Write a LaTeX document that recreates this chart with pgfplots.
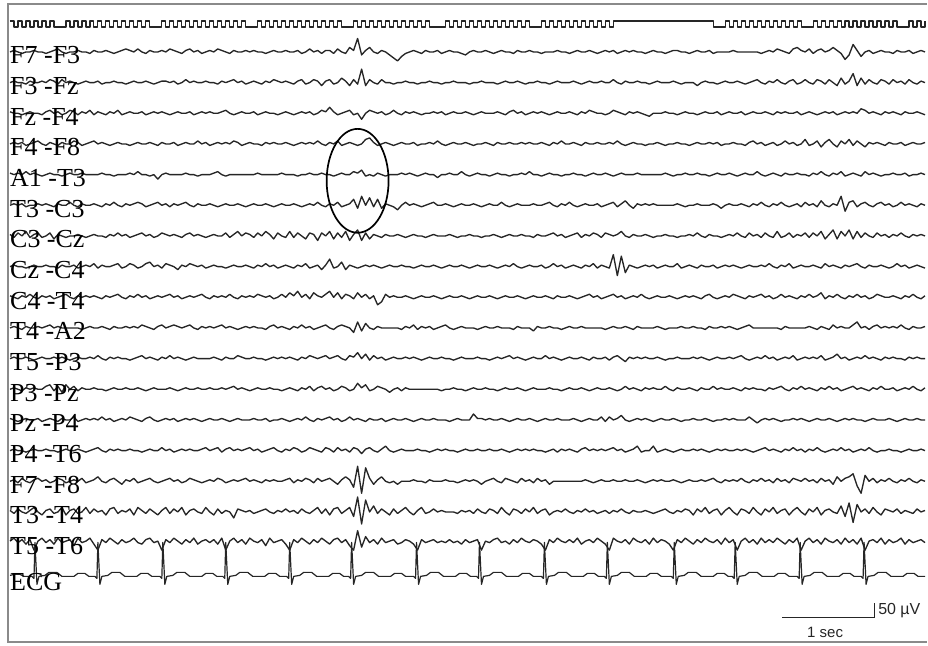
\documentclass[border=0pt]{standalone}
\usepackage{pgfplots}
\pgfplotsset{compat=1.18}
\usepackage{fontspec}
\setmainfont{Liberation Serif}
\newfontfamily\sansf{Liberation Sans}
\definecolor{pen}{HTML}{262626}
\definecolor{framegray}{HTML}{8A8A8A}
\pgfplotsset{
  table/eeg/.style={header=false,row sep=\\,x expr=10+4*\coordindex},
  trace/.style={pen,line width=1.35pt,line join=round,mark=none},
}
\tikzset{lbl/.style={anchor=base west,inner sep=0pt,font=\fontsize{26}{26}\selectfont}}
\begin{document}
\begin{tikzpicture}
\begin{axis}[width=928pt,height=646pt,scale only axis,xmin=0,xmax=928,ymin=0,ymax=646,
  y dir=reverse,hide axis,clip=false]
\path (axis cs:0,0) rectangle (axis cs:928,646);

% photic stimulation marker (1 = high, 0 = low), one sample every 4 px
\addplot[trace,const plot,line width=1.2pt] table[eeg,y expr=27-6*\thisrowno{0}] {
1\\0\\1\\0\\1\\0\\1\\0\\1\\0\\
1\\0\\0\\0\\1\\0\\1\\0\\1\\0\\
1\\0\\1\\0\\1\\0\\1\\0\\1\\0\\
1\\0\\1\\0\\1\\0\\0\\0\\1\\0\\
1\\0\\1\\0\\1\\0\\1\\0\\1\\0\\
1\\0\\1\\0\\1\\0\\1\\0\\1\\0\\
0\\0\\1\\0\\1\\0\\1\\0\\1\\0\\
1\\0\\1\\0\\1\\0\\1\\0\\1\\0\\
1\\0\\1\\0\\0\\0\\1\\0\\1\\0\\
1\\0\\1\\0\\1\\0\\1\\0\\1\\0\\
1\\0\\1\\0\\1\\0\\0\\0\\0\\1\\
0\\1\\0\\1\\0\\1\\0\\1\\0\\1\\
0\\1\\0\\1\\0\\1\\0\\1\\0\\1\\
0\\0\\0\\1\\0\\1\\0\\1\\0\\1\\
0\\1\\0\\1\\0\\1\\0\\1\\0\\1\\
0\\1\\1\\1\\1\\1\\1\\1\\1\\1\\
1\\1\\1\\1\\1\\1\\1\\1\\1\\1\\
1\\1\\1\\1\\1\\1\\0\\0\\0\\1\\
0\\1\\0\\1\\0\\1\\0\\1\\0\\1\\
0\\1\\0\\1\\0\\1\\0\\1\\0\\0\\
0\\1\\0\\1\\0\\1\\0\\1\\0\\1\\
0\\1\\0\\1\\0\\1\\0\\1\\0\\1\\
0\\1\\0\\0\\0\\1\\0\\1\\0\\1\\
};

% EEG channels: deflection in units of 1.5 px, one sample every 4 px
% F7-F3
\addplot[trace] table[eeg,y expr=52-1.5*(\thisrowno{0})] {
0\\1\\0\\-1\\0\\0\\1\\0\\0\\-1\\
0\\1\\2\\0\\-1\\0\\0\\1\\0\\0\\
-1\\1\\0\\0\\1\\0\\-1\\0\\1\\2\\
1\\0\\2\\0\\-1\\1\\0\\0\\1\\0\\
2\\1\\0\\-1\\1\\2\\0\\1\\-1\\0\\
1\\0\\2\\1\\0\\-1\\1\\0\\0\\1\\
0\\1\\0\\0\\-1\\0\\1\\0\\0\\1\\
0\\0\\1\\-1\\0\\2\\0\\1\\-1\\1\\
1\\-1\\2\\0\\-1\\3\\1\\9\\-2\\1\\
3\\0\\-1\\1\\0\\-2\\-4\\-6\\-3\\-1\\
0\\1\\0\\-1\\1\\0\\0\\1\\-1\\0\\
1\\0\\0\\-1\\-2\\0\\1\\0\\0\\1\\
0\\-1\\0\\1\\0\\0\\-1\\1\\0\\0\\
1\\0\\0\\-1\\0\\0\\0\\1\\0\\0\\
-1\\0\\1\\0\\0\\1\\0\\-1\\0\\1\\
0\\1\\-1\\0\\1\\0\\1\\0\\0\\-1\\
0\\1\\0\\0\\-1\\0\\1\\1\\0\\0\\
-1\\0\\1\\0\\0\\1\\-1\\0\\0\\0\\
0\\1\\0\\0\\0\\0\\0\\0\\-1\\0\\
1\\0\\2\\1\\0\\-1\\2\\3\\1\\0\\
2\\-1\\1\\2\\0\\1\\3\\1\\-1\\-5\\
-2\\5\\1\\-3\\0\\1\\-1\\0\\1\\0\\
0\\-1\\1\\0\\0\\1\\-1\\0\\1\\0\\
};

% F3-Fz
\addplot[trace] table[eeg,y expr=82.7-1.5*(\thisrowno{0})] {
0\\1\\0\\0\\-1\\1\\0\\0\\1\\0\\
2\\1\\-1\\2\\0\\1\\0\\-1\\0\\1\\
0\\0\\1\\-1\\0\\0\\1\\0\\0\\-1\\
0\\1\\0\\0\\1\\0\\-1\\0\\1\\1\\
0\\1\\-1\\0\\2\\0\\1\\0\\0\\1\\
0\\0\\-1\\1\\0\\1\\2\\0\\1\\-1\\
0\\1\\0\\-1\\1\\0\\2\\1\\0\\1\\
0\\-1\\1\\2\\-1\\0\\2\\1\\-2\\1\\
2\\-1\\0\\3\\1\\-2\\2\\-1\\9\\-2\\
2\\0\\-1\\2\\0\\0\\-1\\0\\0\\1\\
0\\0\\-1\\0\\0\\1\\0\\0\\-1\\0\\
0\\1\\0\\0\\0\\-1\\0\\0\\1\\0\\
0\\0\\-1\\0\\1\\0\\0\\1\\0\\-1\\
0\\0\\1\\0\\0\\-1\\0\\1\\0\\0\\
0\\1\\0\\-1\\0\\1\\0\\0\\1\\0\\
0\\2\\0\\-1\\1\\0\\0\\1\\0\\0\\
-1\\0\\1\\0\\0\\0\\1\\0\\-1\\0\\
0\\0\\-2\\0\\1\\0\\0\\-1\\0\\1\\
0\\0\\1\\0\\-1\\0\\1\\2\\0\\-1\\
1\\0\\2\\0\\-1\\1\\2\\-1\\0\\2\\
0\\-1\\2\\1\\-1\\2\\0\\-2\\3\\-1\\
1\\6\\-2\\3\\-1\\2\\0\\-1\\2\\1\\
-1\\2\\0\\1\\-1\\2\\0\\-1\\1\\0\\
};

% Fz-F4
\addplot[trace] table[eeg,y expr=113.4-1.5*(\thisrowno{0})] {
1\\0\\0\\-1\\0\\1\\0\\0\\-1\\1\\
2\\0\\1\\-1\\0\\2\\1\\-1\\1\\0\\
2\\-1\\1\\0\\-1\\1\\0\\2\\-1\\0\\
1\\0\\0\\1\\-1\\0\\1\\0\\1\\0\\
-1\\0\\1\\0\\0\\1\\-1\\0\\1\\0\\
1\\0\\0\\1\\2\\0\\-1\\0\\1\\0\\
0\\1\\-1\\0\\1\\0\\0\\-1\\0\\1\\
0\\-1\\0\\1\\0\\1\\-1\\0\\2\\1\\
4\\1\\-1\\0\\1\\2\\-1\\0\\-4\\0\\
2\\1\\0\\1\\-1\\0\\2\\0\\-1\\1\\
0\\1\\0\\-1\\0\\0\\1\\0\\1\\-1\\
0\\1\\0\\0\\1\\0\\-1\\0\\1\\0\\
0\\0\\1\\0\\-1\\1\\2\\0\\1\\-1\\
0\\1\\0\\1\\0\\-1\\0\\1\\0\\0\\
1\\0\\-1\\1\\0\\2\\1\\0\\0\\-1\\
0\\2\\1\\0\\-1\\1\\0\\1\\0\\-1\\
-2\\0\\0\\0\\1\\0\\0\\-1\\0\\1\\
0\\0\\-1\\0\\1\\0\\0\\1\\-1\\0\\
1\\0\\0\\1\\-1\\0\\1\\0\\0\\1\\
0\\-1\\1\\0\\1\\0\\0\\1\\-1\\0\\
1\\0\\-1\\0\\1\\0\\1\\-1\\0\\1\\
0\\1\\0\\3\\2\\0\\1\\0\\-1\\1\\
0\\1\\0\\-1\\1\\0\\0\\1\\0\\-1\\
};

% F4-F8
\addplot[trace] table[eeg,y expr=144.1-1.5*(\thisrowno{0})] {
0\\1\\0\\1\\-1\\0\\1\\2\\0\\-1\\
1\\0\\-1\\1\\0\\0\\2\\1\\-1\\0\\
1\\2\\0\\1\\0\\-1\\0\\1\\0\\0\\
-1\\0\\1\\0\\0\\1\\0\\-1\\1\\0\\
0\\1\\-1\\0\\1\\0\\0\\2\\0\\1\\
-1\\0\\1\\0\\1\\0\\2\\1\\-1\\0\\
1\\0\\0\\-1\\1\\0\\1\\0\\0\\1\\
0\\-1\\0\\1\\0\\1\\0\\2\\0\\-1\\
1\\0\\2\\-1\\0\\1\\0\\-1\\0\\3\\
4\\1\\-1\\0\\1\\0\\-1\\0\\1\\0\\
0\\1\\-1\\0\\0\\1\\0\\2\\0\\-1\\
0\\1\\0\\0\\1\\0\\-1\\0\\0\\1\\
0\\-1\\1\\0\\0\\1\\0\\0\\1\\0\\
1\\0\\0\\1\\0\\-1\\1\\0\\2\\0\\
0\\1\\0\\-1\\1\\0\\0\\1\\0\\0\\
1\\0\\2\\0\\-1\\0\\1\\0\\0\\-1\\
0\\0\\1\\0\\-1\\0\\0\\1\\0\\0\\
-1\\0\\1\\0\\0\\1\\0\\1\\-1\\0\\
0\\1\\0\\0\\-1\\1\\2\\0\\1\\-1\\
0\\1\\-1\\0\\2\\0\\1\\-1\\0\\3\\
-1\\0\\2\\-2\\1\\3\\0\\-2\\2\\0\\
3\\-1\\2\\0\\-2\\1\\0\\1\\0\\-1\\
1\\0\\0\\1\\-1\\0\\1\\0\\0\\1\\
};

% A1-T3
\addplot[trace] table[eeg,y expr=174.8-1.5*(\thisrowno{0})] {
1\\0\\1\\0\\2\\0\\1\\0\\-1\\0\\
1\\0\\0\\-1\\0\\1\\0\\0\\1\\0\\
0\\0\\0\\1\\0\\0\\-1\\0\\0\\0\\
1\\0\\2\\0\\0\\-1\\0\\-3\\0\\1\\
0\\0\\0\\0\\1\\0\\0\\-1\\0\\0\\
0\\1\\2\\0\\-1\\0\\0\\0\\0\\0\\
0\\0\\1\\0\\0\\0\\0\\0\\1\\0\\
0\\0\\-1\\0\\0\\1\\0\\0\\1\\0\\
0\\-1\\0\\1\\0\\0\\2\\1\\3\\-1\\
0\\-1\\1\\0\\-1\\0\\0\\0\\1\\0\\
1\\0\\-1\\0\\1\\0\\0\\-2\\0\\0\\
1\\0\\0\\2\\0\\-1\\0\\1\\0\\0\\
-1\\0\\1\\0\\0\\-1\\0\\0\\1\\0\\
2\\0\\0\\-1\\0\\1\\0\\0\\-1\\0\\
0\\1\\0\\0\\-1\\0\\1\\0\\0\\1\\
0\\-1\\0\\1\\0\\0\\0\\1\\0\\0\\
0\\0\\0\\0\\1\\0\\-1\\0\\0\\1\\
0\\0\\1\\0\\0\\-1\\0\\1\\0\\0\\
1\\0\\-1\\0\\1\\0\\0\\2\\0\\-1\\
0\\1\\0\\-1\\1\\0\\0\\1\\0\\0\\
-1\\1\\0\\2\\0\\-1\\1\\0\\2\\-1\\
0\\1\\0\\-1\\2\\0\\1\\0\\-1\\0\\
0\\1\\0\\0\\1\\-1\\0\\0\\1\\0\\
};

% T3-C3
\addplot[trace] table[eeg,y expr=205.5-1.5*(\thisrowno{0})] {
0\\1\\0\\1\\-1\\0\\0\\1\\0\\1\\
0\\-1\\1\\0\\0\\2\\0\\-1\\1\\0\\
0\\1\\0\\-1\\1\\0\\2\\0\\-1\\1\\
0\\1\\2\\1\\-1\\0\\1\\2\\0\\1\\
-1\\1\\0\\1\\2\\0\\-1\\1\\0\\0\\
1\\0\\-1\\0\\1\\0\\0\\1\\0\\-1\\
0\\1\\0\\0\\1\\0\\-1\\0\\1\\0\\
0\\1\\0\\-1\\0\\1\\0\\2\\0\\-1\\
1\\0\\2\\-1\\0\\1\\4\\-2\\6\\0\\
5\\-1\\4\\-2\\1\\0\\-1\\-3\\0\\2\\
0\\1\\0\\-1\\0\\1\\2\\0\\0\\1\\
0\\-1\\0\\1\\0\\0\\1\\0\\-1\\0\\
1\\0\\0\\2\\0\\-1\\0\\1\\0\\0\\
0\\1\\0\\0\\1\\2\\0\\-1\\1\\0\\
2\\0\\-1\\0\\1\\0\\0\\1\\-1\\0\\
1\\2\\-1\\1\\3\\0\\-2\\1\\0\\1\\
0\\1\\0\\0\\0\\0\\0\\1\\0\\-1\\
0\\0\\1\\0\\0\\0\\1\\0\\-2\\0\\
1\\0\\0\\1\\0\\-1\\1\\0\\2\\0\\
-1\\1\\0\\2\\0\\-1\\0\\1\\-1\\2\\
0\\1\\-1\\3\\0\\-1\\1\\0\\6\\-4\\
2\\3\\-1\\1\\2\\0\\-1\\1\\2\\0\\
1\\-1\\0\\2\\0\\1\\0\\-1\\1\\0\\
};

% C3-Cz
\addplot[trace] table[eeg,y expr=236.2-1.5*(\thisrowno{0})] {
1\\-1\\2\\0\\3\\-1\\1\\2\\-1\\0\\
2\\-2\\1\\0\\-1\\0\\0\\1\\0\\-1\\
0\\1\\0\\0\\-1\\1\\0\\2\\0\\1\\
-1\\0\\1\\2\\0\\1\\-1\\0\\2\\1\\
0\\1\\0\\-1\\1\\2\\0\\1\\0\\-1\\
0\\1\\0\\0\\2\\-1\\1\\3\\0\\2\\
1\\-1\\2\\0\\3\\1\\-2\\2\\0\\-1\\
3\\-1\\2\\0\\-2\\2\\1\\-3\\2\\0\\
3\\-2\\2\\-1\\3\\-3\\1\\4\\-3\\2\\
-2\\1\\0\\-1\\1\\0\\0\\1\\0\\-1\\
0\\1\\0\\0\\-1\\0\\1\\0\\0\\0\\
1\\0\\-1\\0\\0\\1\\0\\0\\-1\\0\\
0\\1\\0\\-1\\0\\1\\0\\0\\1\\0\\
0\\-1\\1\\0\\0\\1\\2\\0\\1\\-1\\
0\\1\\2\\-1\\1\\0\\2\\1\\-1\\2\\
1\\0\\1\\3\\0\\-1\\1\\0\\0\\1\\
0\\-1\\0\\0\\1\\0\\0\\-1\\0\\0\\
1\\0\\2\\0\\-1\\1\\0\\0\\-1\\0\\
1\\0\\2\\0\\-1\\2\\0\\1\\-1\\2\\
0\\-1\\3\\-1\\0\\2\\-1\\1\\0\\2\\
-1\\2\\0\\3\\-2\\1\\4\\-2\\3\\0\\
4\\-2\\3\\-1\\2\\0\\-1\\2\\0\\1\\
-1\\1\\0\\2\\0\\-1\\1\\0\\1\\0\\
};

% Cz-C4
\addplot[trace] table[eeg,y expr=266.9-1.5*(\thisrowno{0})] {
0\\1\\0\\0\\-1\\0\\1\\0\\0\\1\\
0\\0\\-1\\1\\0\\0\\1\\-1\\0\\1\\
0\\2\\-1\\1\\0\\0\\1\\2\\-1\\0\\
2\\1\\-1\\0\\2\\3\\0\\1\\-1\\2\\
1\\0\\-2\\1\\0\\2\\1\\0\\1\\-1\\
0\\1\\0\\0\\-1\\0\\1\\0\\0\\1\\
0\\-1\\1\\0\\2\\0\\1\\-1\\0\\1\\
0\\-1\\1\\0\\2\\-1\\0\\1\\-2\\1\\
5\\-1\\0\\3\\-2\\1\\0\\-1\\0\\1\\
0\\1\\0\\-1\\0\\1\\0\\0\\1\\0\\
0\\-1\\0\\1\\0\\0\\1\\0\\-1\\0\\
1\\0\\0\\1\\0\\-1\\0\\1\\0\\0\\
1\\0\\-1\\0\\1\\0\\2\\0\\-1\\0\\
1\\0\\0\\1\\-1\\0\\2\\0\\1\\-1\\
0\\1\\0\\-1\\1\\0\\2\\-1\\1\\0\\
-1\\8\\-6\\7\\-4\\1\\0\\-1\\0\\1\\
0\\1\\-1\\0\\1\\0\\0\\2\\-1\\0\\
1\\0\\-1\\1\\0\\0\\1\\-1\\0\\1\\
0\\1\\0\\-1\\0\\1\\0\\0\\1\\0\\
2\\0\\-1\\1\\0\\2\\-1\\0\\1\\0\\
0\\1\\0\\-1\\2\\0\\1\\0\\-1\\1\\
0\\1\\2\\0\\-1\\1\\0\\0\\1\\0\\
-1\\0\\2\\0\\1\\-1\\0\\1\\0\\-1\\
};

% C4-T4
\addplot[trace] table[eeg,y expr=297.6-1.5*(\thisrowno{0})] {
1\\0\\-1\\1\\0\\2\\0\\-1\\1\\0\\
1\\-1\\0\\1\\2\\0\\-1\\1\\0\\1\\
0\\1\\0\\-1\\1\\0\\1\\2\\0\\-1\\
1\\0\\2\\0\\1\\-1\\0\\1\\0\\1\\
2\\0\\1\\-1\\0\\1\\0\\1\\2\\0\\
-1\\1\\0\\1\\0\\2\\0\\-1\\1\\0\\
1\\0\\2\\1\\0\\1\\-1\\0\\2\\0\\
3\\1\\4\\0\\2\\-1\\3\\1\\0\\2\\
4\\0\\3\\-1\\2\\1\\-1\\3\\0\\2\\
-1\\1\\-5\\-3\\2\\0\\1\\0\\0\\1\\
0\\-1\\0\\1\\0\\0\\1\\0\\-1\\0\\
1\\0\\0\\1\\0\\-1\\0\\1\\0\\0\\
1\\0\\-1\\0\\1\\0\\0\\1\\0\\-1\\
0\\1\\0\\0\\1\\0\\-1\\1\\0\\0\\
1\\0\\-1\\0\\1\\2\\0\\1\\-1\\0\\
1\\2\\0\\1\\-1\\0\\1\\0\\2\\0\\
-1\\0\\1\\0\\0\\1\\0\\-1\\0\\1\\
0\\1\\0\\-1\\1\\2\\0\\-1\\0\\1\\
0\\2\\1\\0\\-1\\1\\0\\1\\2\\0\\
1\\-1\\0\\2\\0\\1\\0\\-1\\1\\0\\
2\\0\\1\\3\\-1\\1\\0\\2\\0\\-1\\
1\\0\\2\\0\\1\\-1\\0\\2\\1\\0\\
0\\1\\0\\-1\\1\\0\\2\\0\\-1\\1\\
};

% T4-A2
\addplot[trace] table[eeg,y expr=328.3-1.5*(\thisrowno{0})] {
0\\1\\0\\-1\\1\\0\\0\\1\\0\\1\\
2\\0\\1\\0\\0\\0\\0\\0\\-1\\0\\
1\\0\\0\\1\\0\\-1\\1\\0\\0\\1\\
0\\1\\0\\2\\1\\0\\-1\\1\\2\\0\\
1\\2\\1\\0\\1\\2\\0\\-1\\1\\0\\
1\\0\\1\\2\\0\\1\\0\\-1\\0\\1\\
0\\1\\0\\0\\-1\\1\\2\\0\\1\\0\\
-1\\1\\0\\2\\0\\1\\-1\\0\\1\\2\\
0\\-1\\1\\2\\1\\0\\-3\\4\\-2\\3\\
0\\-1\\1\\0\\0\\0\\0\\0\\-1\\1\\
0\\2\\-1\\1\\0\\1\\-1\\0\\1\\2\\
0\\-1\\0\\1\\0\\0\\0\\-1\\0\\1\\
0\\0\\1\\0\\0\\0\\-1\\1\\0\\0\\
0\\-2\\1\\0\\0\\1\\0\\0\\-1\\0\\
1\\0\\0\\1\\0\\0\\0\\0\\0\\-1\\
0\\1\\0\\0\\1\\0\\-1\\1\\0\\0\\
0\\0\\1\\0\\-1\\0\\0\\0\\1\\0\\
0\\1\\0\\0\\-1\\1\\0\\0\\1\\0\\
1\\0\\-1\\0\\1\\2\\0\\0\\0\\0\\
0\\0\\0\\-1\\1\\0\\0\\0\\0\\0\\
1\\0\\-1\\1\\0\\-1\\2\\0\\1\\0\\
0\\2\\4\\0\\1\\-1\\1\\2\\0\\1\\
0\\1\\0\\2\\0\\-1\\1\\0\\0\\1\\
};

% T5-P3
\addplot[trace] table[eeg,y expr=359.0-1.5*(\thisrowno{0})] {
0\\1\\0\\0\\1\\0\\-1\\0\\1\\0\\
0\\1\\0\\1\\0\\-1\\0\\1\\0\\0\\
1\\0\\2\\0\\-1\\1\\0\\1\\0\\0\\
-1\\0\\1\\2\\0\\1\\0\\-1\\1\\0\\
2\\0\\1\\0\\-1\\0\\1\\0\\0\\0\\
0\\1\\0\\-1\\1\\0\\0\\2\\1\\0\\
0\\1\\0\\0\\-1\\0\\1\\0\\1\\0\\
1\\0\\-1\\1\\0\\2\\1\\0\\1\\2\\
0\\1\\2\\0\\-1\\2\\1\\4\\0\\3\\
-1\\2\\0\\1\\-1\\0\\1\\0\\0\\1\\
0\\1\\0\\-1\\0\\1\\0\\0\\1\\0\\
0\\-1\\0\\1\\0\\0\\0\\1\\0\\0\\
-1\\0\\1\\0\\1\\2\\0\\1\\0\\-1\\
0\\1\\0\\0\\2\\0\\1\\0\\-1\\0\\
1\\0\\0\\1\\0\\-1\\1\\0\\0\\1\\
-1\\1\\2\\0\\-2\\1\\0\\1\\0\\1\\
0\\0\\1\\0\\-1\\0\\0\\1\\0\\0\\
0\\1\\0\\1\\0\\-1\\0\\1\\0\\0\\
1\\0\\1\\2\\0\\-1\\0\\1\\0\\2\\
0\\1\\-1\\0\\1\\0\\2\\-1\\0\\1\\
0\\1\\0\\2\\-1\\0\\1\\3\\0\\1\\
-1\\0\\1\\0\\2\\0\\1\\0\\-1\\1\\
0\\1\\0\\0\\-1\\1\\0\\1\\0\\0\\
};

% P3-Pz
\addplot[trace] table[eeg,y expr=389.7-1.5*(\thisrowno{0})] {
0\\1\\0\\-1\\1\\0\\1\\0\\0\\2\\
3\\-1\\2\\-2\\3\\0\\2\\-1\\1\\0\\
0\\1\\0\\0\\-1\\0\\1\\0\\0\\1\\
0\\0\\1\\0\\-1\\0\\1\\0\\0\\0\\
1\\0\\-1\\0\\1\\0\\0\\1\\0\\0\\
1\\0\\0\\1\\0\\1\\2\\0\\1\\0\\
-1\\0\\1\\0\\0\\1\\0\\0\\-1\\0\\
1\\0\\-1\\1\\0\\2\\-1\\1\\2\\0\\
1\\-1\\0\\2\\1\\-1\\0\\4\\1\\3\\
-1\\0\\2\\1\\0\\-2\\0\\1\\-1\\1\\
0\\0\\0\\0\\0\\0\\0\\0\\-1\\0\\
0\\1\\0\\0\\-1\\0\\1\\0\\0\\1\\
0\\0\\-1\\0\\1\\0\\0\\1\\0\\-1\\
0\\1\\0\\0\\0\\1\\0\\0\\-1\\0\\
1\\0\\0\\1\\0\\-1\\0\\1\\0\\0\\
1\\0\\-1\\0\\2\\0\\1\\0\\-1\\1\\
0\\1\\0\\0\\2\\0\\-1\\1\\0\\0\\
1\\0\\-1\\1\\0\\0\\2\\0\\1\\0\\
0\\1\\0\\-1\\1\\0\\1\\0\\0\\-1\\
1\\0\\1\\2\\0\\-1\\1\\0\\2\\0\\
1\\0\\-1\\1\\0\\2\\0\\1\\-1\\0\\
1\\2\\0\\1\\0\\-1\\1\\0\\2\\0\\
0\\1\\-1\\0\\1\\0\\2\\0\\-1\\1\\
};

% Pz-P4
\addplot[trace] table[eeg,y expr=420.4-1.5*(\thisrowno{0})] {
1\\0\\-1\\0\\1\\0\\0\\1\\-1\\0\\
1\\0\\-1\\1\\0\\0\\2\\-1\\0\\1\\
0\\1\\0\\2\\0\\1\\-1\\0\\1\\0\\
2\\1\\0\\-1\\1\\2\\0\\-1\\0\\1\\
0\\1\\-1\\0\\1\\0\\1\\0\\-1\\0\\
1\\0\\0\\1\\0\\-1\\0\\1\\0\\0\\
0\\1\\0\\0\\1\\-1\\0\\0\\1\\0\\
-1\\0\\1\\0\\2\\0\\-1\\1\\0\\1\\
2\\0\\1\\-1\\0\\2\\0\\1\\0\\-1\\
1\\0\\0\\1\\-1\\0\\1\\0\\0\\1\\
0\\-1\\0\\1\\0\\0\\1\\0\\0\\0\\
-1\\0\\1\\0\\0\\0\\4\\1\\1\\0\\
1\\0\\0\\1\\0\\-1\\0\\1\\0\\0\\
1\\0\\-1\\0\\1\\0\\0\\1\\0\\0\\
0\\1\\0\\-1\\0\\1\\0\\0\\2\\-1\\
2\\0\\1\\3\\0\\-1\\0\\1\\0\\1\\
0\\-1\\0\\1\\0\\0\\1\\0\\-1\\0\\
0\\1\\0\\0\\1\\0\\-1\\0\\0\\1\\
0\\1\\0\\0\\0\\2\\0\\-2\\0\\1\\
0\\1\\0\\-1\\0\\0\\1\\0\\1\\0\\
-1\\0\\1\\0\\0\\1\\0\\-1\\0\\1\\
0\\1\\0\\0\\-1\\0\\1\\0\\0\\0\\
1\\0\\-1\\0\\1\\0\\0\\1\\0\\0\\
};

% P4-T6
\addplot[trace] table[eeg,y expr=451.1-1.5*(\thisrowno{0})] {
0\\1\\0\\0\\-1\\0\\1\\0\\0\\1\\
0\\0\\-1\\0\\1\\0\\0\\1\\0\\-1\\
0\\1\\2\\0\\-1\\1\\0\\1\\0\\0\\
1\\0\\0\\-1\\0\\1\\0\\0\\2\\0\\
1\\-1\\0\\1\\0\\1\\0\\0\\1\\2\\
0\\1\\2\\-1\\1\\2\\0\\1\\0\\1\\
2\\0\\1\\-1\\0\\1\\2\\0\\-1\\1\\
0\\2\\1\\-1\\0\\2\\1\\0\\-1\\2\\
1\\-1\\2\\0\\1\\-1\\2\\1\\-2\\1\\
2\\0\\-1\\1\\3\\0\\-1\\0\\1\\0\\
0\\0\\1\\0\\0\\-1\\0\\1\\0\\1\\
0\\0\\-1\\0\\1\\0\\0\\1\\0\\0\\
1\\0\\0\\1\\0\\-1\\0\\1\\0\\1\\
0\\1\\0\\0\\-1\\0\\1\\-1\\1\\0\\
1\\0\\-1\\1\\2\\0\\1\\0\\1\\0\\
1\\2\\0\\1\\-1\\0\\1\\3\\-1\\0\\
0\\3\\-1\\0\\1\\0\\-1\\0\\1\\0\\
0\\1\\0\\1\\0\\-1\\0\\1\\0\\1\\
0\\0\\1\\0\\1\\0\\-1\\0\\1\\2\\
0\\1\\0\\-1\\1\\0\\2\\0\\1\\-1\\
1\\0\\2\\0\\-1\\0\\1\\0\\2\\0\\
1\\-1\\0\\1\\0\\2\\0\\-1\\0\\0\\
1\\0\\0\\-1\\0\\1\\0\\0\\1\\0\\
};

% F7-F8
\addplot[trace] table[eeg,y expr=481.8-1.5*(\thisrowno{0})] {
0\\1\\-1\\2\\0\\-1\\1\\2\\0\\1\\
-1\\0\\2\\1\\-1\\0\\1\\0\\2\\-1\\
0\\1\\3\\0\\-1\\1\\2\\0\\-2\\1\\
0\\2\\-1\\0\\1\\2\\0\\-1\\0\\1\\
2\\0\\1\\-1\\0\\2\\1\\0\\-1\\0\\
1\\0\\2\\1\\-1\\0\\1\\0\\1\\2\\
0\\1\\0\\-1\\1\\0\\1\\0\\0\\1\\
2\\-1\\1\\0\\2\\1\\-1\\2\\0\\1\\
2\\0\\-2\\1\\3\\1\\-4\\10\\-8\\9\\
2\\-2\\1\\3\\0\\-1\\0\\-2\\0\\0\\
0\\1\\0\\0\\-1\\1\\0\\0\\0\\1\\
0\\0\\-1\\0\\1\\0\\1\\0\\-2\\0\\
1\\2\\0\\-1\\2\\1\\0\\-1\\2\\0\\
1\\-1\\2\\0\\1\\-2\\0\\0\\0\\0\\
0\\0\\0\\0\\1\\0\\-1\\0\\1\\0\\
0\\1\\0\\0\\1\\0\\0\\1\\0\\-1\\
0\\1\\0\\1\\0\\0\\1\\0\\-1\\0\\
1\\0\\0\\1\\0\\1\\2\\0\\-1\\1\\
0\\1\\0\\2\\0\\-1\\1\\0\\2\\0\\
1\\-1\\2\\0\\1\\-1\\2\\1\\0\\2\\
0\\1\\-1\\2\\0\\1\\-2\\3\\0\\2\\
3\\5\\-3\\-8\\4\\0\\2\\-1\\1\\0\\
2\\0\\-1\\1\\0\\2\\0\\-1\\1\\0\\
};

% T3-T4
\addplot[trace] table[eeg,y expr=512.5-1.5*(\thisrowno{0})] {
1\\-1\\2\\0\\-1\\1\\3\\0\\-2\\1\\
2\\-1\\0\\3\\-2\\1\\2\\-1\\0\\3\\
-1\\2\\0\\1\\-2\\2\\3\\-1\\1\\0\\
2\\-2\\3\\1\\-1\\2\\0\\-2\\1\\3\\
-1\\2\\0\\3\\-2\\1\\2\\0\\-1\\3\\
0\\-2\\2\\-1\\1\\0\\-4\\2\\1\\0\\
1\\-1\\0\\1\\2\\0\\-1\\1\\0\\2\\
0\\1\\-1\\2\\0\\-1\\1\\3\\-1\\2\\
-2\\2\\3\\-1\\1\\3\\-3\\10\\-8\\8\\
0\\4\\-1\\2\\0\\-2\\2\\-1\\1\\3\\
0\\-2\\1\\3\\-1\\0\\2\\0\\1\\0\\
0\\0\\-1\\1\\0\\1\\-1\\2\\0\\-1\\
2\\1\\-1\\3\\0\\-2\\2\\1\\-1\\2\\
0\\3\\-1\\1\\2\\-2\\0\\1\\0\\2\\
0\\-1\\1\\0\\2\\0\\1\\-1\\0\\1\\
-1\\1\\0\\2\\0\\-1\\1\\0\\0\\1\\
0\\-1\\0\\1\\2\\0\\-1\\1\\0\\2\\
1\\-2\\2\\0\\3\\-1\\1\\2\\-2\\1\\
3\\0\\-2\\2\\1\\-1\\3\\0\\-2\\2\\
0\\3\\-1\\1\\2\\-2\\1\\3\\0\\-2\\
2\\0\\3\\-2\\1\\2\\0\\-1\\4\\-3\\
6\\-7\\5\\0\\2\\-1\\3\\0\\-2\\2\\
1\\0\\2\\-1\\1\\0\\-1\\2\\0\\1\\
};

% T5-T6
\addplot[trace] table[eeg,y expr=543.2-1.5*(\thisrowno{0})] {
1\\3\\0\\2\\-1\\2\\-5\\1\\3\\0\\
2\\-1\\3\\0\\1\\2\\-2\\3\\0\\1\\
3\\-1\\-5\\2\\0\\3\\1\\-1\\2\\0\\
1\\3\\0\\-1\\2\\3\\0\\1\\-5\\2\\
0\\3\\1\\-1\\2\\0\\3\\-1\\1\\2\\
0\\2\\-1\\3\\-5\\1\\3\\0\\2\\-1\\
3\\1\\0\\2\\-2\\3\\0\\1\\2\\-1\\
-5\\2\\0\\3\\1\\-1\\2\\0\\3\\1\\
-1\\2\\3\\0\\2\\-2\\-5\\8\\-3\\4\\
0\\2\\-1\\3\\0\\1\\2\\-1\\0\\2\\
1\\-1\\-5\\2\\0\\1\\2\\0\\1\\0\\
2\\0\\1\\-1\\2\\0\\1\\2\\-5\\1\\
0\\2\\3\\0\\1\\-1\\2\\0\\3\\1\\
0\\2\\1\\-1\\-5\\2\\0\\3\\1\\0\\
2\\0\\3\\-1\\1\\2\\0\\3\\1\\-1\\
-5\\3\\1\\0\\2\\-1\\3\\1\\0\\2\\
-1\\3\\0\\2\\1\\-1\\-5\\2\\0\\3\\
1\\-1\\2\\0\\3\\1\\0\\2\\-1\\3\\
0\\2\\-5\\1\\3\\0\\2\\-1\\3\\0\\
2\\0\\3\\1\\-1\\2\\0\\3\\-5\\1\\
3\\0\\2\\-1\\3\\1\\0\\2\\-1\\3\\
0\\2\\-1\\3\\-5\\1\\2\\0\\3\\-1\\
2\\0\\1\\3\\-1\\2\\0\\1\\2\\0\\
};

% ECG
\addplot[trace,line width=1.2pt] coordinates {
(10,576)(14,575)(20,575)(24,577)
(32,577)(34,579)(35,543)(37,585)(39,577)(45,576)(49,573)(57,573)(62,577)(74,577)(78,574)(85,574)(89,577)
(95,577)(97,579)(98,543)(100,585)(102,577)(108,576)(112,573)(120,573)(125,577)(137,577)(141,574)(148,574)(152,577)
(160,577)(162,579)(163,543)(165,585)(167,577)(173,576)(177,573)(185,573)(190,577)(202,577)(206,574)(213,574)(217,577)
(223,577)(225,579)(226,543)(228,585)(230,577)(236,576)(240,573)(248,573)(253,577)(265,577)(269,574)(276,574)(280,577)
(287,577)(289,579)(290,543)(292,585)(294,577)(300,576)(304,573)(312,573)(317,577)(329,577)(333,574)(340,574)(344,577)
(349,577)(351,579)(352,543)(354,585)(356,577)(362,576)(366,573)(374,573)(379,577)(391,577)(395,574)(402,574)(406,577)
(414,577)(416,579)(417,543)(419,585)(421,577)(427,576)(431,573)(439,573)(444,577)(456,577)(460,574)(467,574)(471,577)
(477,577)(479,579)(480,543)(482,585)(484,577)(490,576)(494,573)(502,573)(507,577)(519,577)(523,574)(530,574)(534,577)
(542,577)(544,579)(545,543)(547,585)(549,577)(555,576)(559,573)(567,573)(572,577)(584,577)(588,574)(595,574)(599,577)
(605,577)(607,579)(608,543)(610,585)(612,577)(618,576)(622,573)(630,573)(635,577)(647,577)(651,574)(658,574)(662,577)
(672,577)(674,579)(675,543)(677,585)(679,577)(685,576)(689,573)(697,573)(702,577)(714,577)(718,574)(725,574)(729,577)
(733,577)(735,579)(736,543)(738,585)(740,577)(746,576)(750,573)(758,573)(763,577)(775,577)(779,574)(786,574)(790,577)
(798,577)(800,579)(801,543)(803,585)(805,577)(811,576)(815,573)(823,573)(828,577)(840,577)(844,574)(851,574)(855,577)
(862,577)(864,579)(865,543)(867,585)(869,577)(875,576)(879,573)(887,573)(892,577)(904,577)(908,574)(915,574)(919,577)(926,577)
};

% channel labels
\node[lbl] at (axis cs:10,64) {F7 -F3};
\node[lbl] at (axis cs:10,94.7) {F3 -Fz};
\node[lbl] at (axis cs:10,125.4) {Fz -F4};
\node[lbl] at (axis cs:10,156.1) {F4 -F8};
\node[lbl] at (axis cs:10,186.8) {A1 -T3};
\node[lbl] at (axis cs:10,217.5) {T3 -C3};
\node[lbl] at (axis cs:10,248.2) {C3 -Cz};
\node[lbl] at (axis cs:10,278.9) {Cz -C4};
\node[lbl] at (axis cs:10,309.6) {C4 -T4};
\node[lbl] at (axis cs:10,340.3) {T4 -A2};
\node[lbl] at (axis cs:10,371) {T5 -P3};
\node[lbl] at (axis cs:10,401.7) {P3 -Pz};
\node[lbl] at (axis cs:10,432.4) {Pz -P4};
\node[lbl] at (axis cs:10,463.1) {P4 -T6};
\node[lbl] at (axis cs:10,493.8) {F7 -F8};
\node[lbl] at (axis cs:10,524.5) {T3 -T4};
\node[lbl] at (axis cs:10,555.2) {T5 -T6};
\node[lbl] at (axis cs:10,591) {ECG};

% highlighted discharge
\draw[black,line width=1.7pt] (axis cs:358,181) ellipse [x radius=31pt,y radius=52pt];

% calibration bar
\addplot[pen,line width=1pt] coordinates {(783,618)(875,618)(875,604)};
\node[anchor=west,inner sep=0pt,font=\sansf\fontsize{16}{16}\selectfont,text=pen] at (axis cs:879,611) {50 µV};
\node[inner sep=0pt,font=\sansf\fontsize{15}{15}\selectfont,text=pen] at (axis cs:826,633) {1 sec};

% page frame
\draw[framegray,line width=2pt] (axis cs:928,4) -- (axis cs:8,4) -- (axis cs:8,643) -- (axis cs:928,643);
\end{axis}
\end{tikzpicture}
\end{document}
